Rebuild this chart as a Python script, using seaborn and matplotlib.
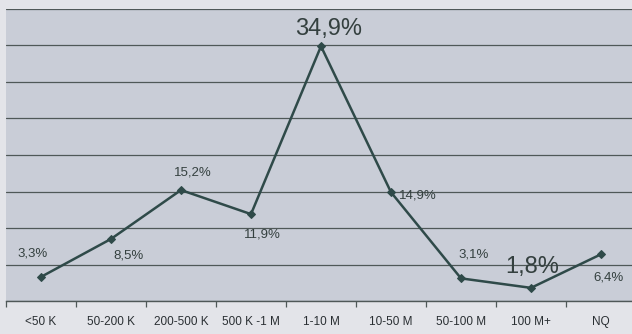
import matplotlib
matplotlib.use("Agg")
import matplotlib.pyplot as plt
import seaborn as sns
import pandas as pd
import numpy as np

categories = ["<50 K", "50-200 K", "200-500 K", "500 K -1 M", "1-10 M",
              "10-50 M", "50-100 M", "100 M+", "NQ"]
values = [3.3, 8.5, 15.2, 11.9, 34.9, 14.9, 3.1, 1.8, 6.4]
value_labels = ["3,3%", "8,5%", "15,2%", "11,9%", "34,9%", "14,9%", "3,1%", "1,8%", "6,4%"]

# label styling (offsets in pixels, font sizes)
label_offsets = [(-8, 23), (17, -17), (12, 18), (11, -20), (8, 17),
                 (27, -3), (13, 24), (1, 21), (8, -23)]
label_sizes = [9.5, 9.5, 9.5, 9.5, 17, 9.5, 9.5, 17, 9.5]

sns.set_theme(style="white")
plt.rcParams["font.family"] = ["Liberation Sans", "DejaVu Sans"]

df = pd.DataFrame({"cat": categories, "val": values, "x": np.arange(len(categories))})

fig = plt.figure(figsize=(6.32, 3.34), dpi=100)
fig.patch.set_facecolor("#e3e4e9")
ax = fig.add_axes([6 / 632, 1 - 301 / 334, 630 / 632, (301 - 9) / 334])
ax.set_facecolor("#c9cdd7")

line_col = "#2f4a49"
sns.lineplot(data=df, x="x", y="val", ax=ax, color=line_col, linewidth=1.8,
             marker="D", markersize=4.5, markeredgecolor=line_col, markerfacecolor=line_col)

ax.set_xlim(-0.5, 8.5)
ax.set_ylim(0, 40)
ax.set_yticks(np.arange(0, 41, 5))
ax.yaxis.grid(True, color="#4f5858", linewidth=0.9)
ax.set_axisbelow(True)
ax.tick_params(axis="y", left=False, labelleft=False)

ax.set_xticks(np.arange(len(categories)))
ax.set_xticklabels(categories, fontsize=8.5, color="#2a2f33")
ax.set_xticks(np.arange(-0.5, len(categories), 1), minor=True)
ax.tick_params(axis="x", which="major", length=0, pad=11)
ax.tick_params(axis="x", which="minor", length=4, color="#4f5858", width=0.9, bottom=True)
ax.set_xlabel("")
ax.set_ylabel("")

for s in ["top", "right", "left"]:
    ax.spines[s].set_visible(False)
ax.spines["bottom"].set_color("#4f5858")
ax.spines["bottom"].set_linewidth(1.0)

for i, (v, lab) in enumerate(zip(values, value_labels)):
    dx, dy = label_offsets[i]
    ax.annotate(lab, (i, v), xytext=(dx, dy), textcoords="offset pixels",
                ha="center", va="center", fontsize=label_sizes[i], color="#34403f")

fig.savefig("out.png", dpi=100, facecolor=fig.get_facecolor())
